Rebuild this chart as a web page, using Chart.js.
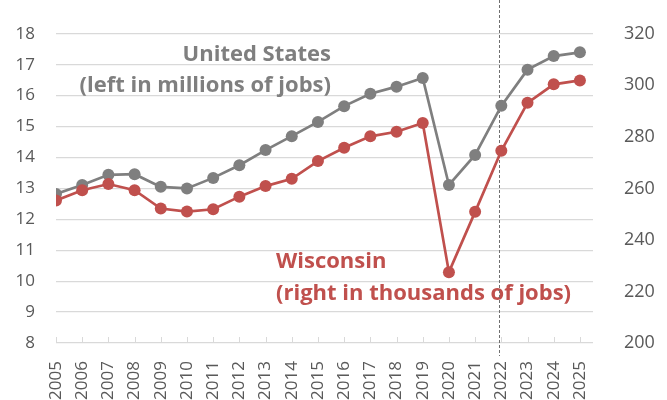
<!DOCTYPE html>
<html><head><meta charset="utf-8">
<script src="https://cdn.jsdelivr.net/npm/chart.js@4"></script>
<style>html,body{margin:0;padding:0;background:#fff}#wrap{width:667px;height:400px;position:relative}</style>
</head><body><div id="wrap"><canvas id="c"></canvas></div>
<script>
const years = [2005,2006,2007,2008,2009,2010,2011,2012,2013,2014,2015,2016,2017,2018,2019,2020,2021,2022,2023,2024,2025];
const usJobs = [12.82,13.11,13.44,13.46,13.05,13.00,13.34,13.75,14.24,14.69,15.15,15.66,16.06,16.29,16.57,13.11,14.08,15.67,16.84,17.28,17.40];
const wiJobs = [255.3,259.3,261.7,259.3,252.2,251.0,251.9,256.8,260.9,263.7,270.6,275.8,280.2,282.0,285.4,227.5,250.9,274.6,293.2,300.4,301.9];
const leftTicks = [8,9,10,11,12,13,14,15,16,17,18];
const rightTicks = [200,220,240,260,280,300,320];
const markerYear = 2021.9;
const usLabel = ['United States','(left in millions of jobs)'];
const wiLabel = ['Wisconsin','(right in thousands of jobs)'];

const GRAY = '#7F7F7F', RED = '#C0504D', TXT = '#595959', GRID = '#D9D9D9';
const FONT = "'Open Sans', sans-serif";

const extras = {
  id: 'extras',
  beforeDatasetsDraw(chart) {
    const ctx = chart.ctx, ca = chart.chartArea, x = chart.scales.x;
    ctx.save();
    ctx.strokeStyle = GRID; ctx.lineWidth = 1;
    years.forEach(yr => {
      const px = Math.round(x.getPixelForValue(yr)) + 0.5;
      ctx.beginPath(); ctx.moveTo(px, ca.bottom - 6); ctx.lineTo(px, ca.bottom); ctx.stroke();
    });
    ctx.font = "bold 22px " + FONT;
    ctx.textBaseline = 'middle';
    ctx.fillStyle = GRAY; ctx.textAlign = 'right';
    ctx.fillText(usLabel[0], 331, 55);
    ctx.fillText(usLabel[1], 331, 86);
    ctx.fillStyle = RED; ctx.textAlign = 'left';
    ctx.fillText(wiLabel[0], 276, 262);
    ctx.fillText(wiLabel[1], 276, 294);
    const mx = Math.round(x.getPixelForValue(markerYear)) + 0.5;
    ctx.strokeStyle = '#6f6f6f'; ctx.lineWidth = 1; ctx.setLineDash([3,2]);
    ctx.beginPath(); ctx.moveTo(mx, 0); ctx.lineTo(mx, ca.bottom + 13); ctx.stroke();
    ctx.restore();
  }
};

new Chart(document.getElementById('c'), {
  type: 'line',
  data: {
    datasets: [
      { label: 'Wisconsin', data: years.map((y,i)=>({x:y,y:wiJobs[i]})), yAxisID: 'y2',
        borderColor: RED, backgroundColor: RED, borderWidth: 2.7, pointRadius: 6, pointHoverRadius: 6,
        pointBorderWidth: 0, tension: 0 },
      { label: 'United States', data: years.map((y,i)=>({x:y,y:usJobs[i]})), yAxisID: 'y',
        borderColor: GRAY, backgroundColor: GRAY, borderWidth: 2.7, pointRadius: 6, pointHoverRadius: 6,
        pointBorderWidth: 0, tension: 0 }
    ]
  },
  options: {
    responsive: true, maintainAspectRatio: false, animation: false,
    layout: { padding: { top: 22, left: 0, right: 0, bottom: 0 } },
    plugins: { legend: { display: false }, tooltip: { enabled: false } },
    scales: {
      x: {
        type: 'linear', min: 2005, max: 2025.5,
        afterBuildTicks: s => { s.ticks = years.map(v => ({ value: v })); },
        afterFit: s => { s.height = 57; },
        grid: { display: false }, border: { display: false },
        ticks: { autoSkip: false, minRotation: 90, maxRotation: 90, padding: 10,
          color: TXT, font: { family: FONT, size: 17 }, callback: v => String(v) }
      },
      y: {
        position: 'left', min: 8, max: 18,
        afterBuildTicks: s => { s.ticks = leftTicks.map(v => ({ value: v })); },
        afterFit: s => { s.width = 56; },
        grid: { color: GRID, lineWidth: 1.2, drawTicks: false }, border: { display: false },
        ticks: { padding: 21, color: TXT, font: { family: FONT, size: 17 } }
      },
      y2: {
        position: 'right', min: 200, max: 320,
        afterBuildTicks: s => { s.ticks = rightTicks.map(v => ({ value: v })); },
        afterFit: s => { s.width = 74; },
        grid: { display: false }, border: { display: false },
        ticks: { padding: 23, color: TXT, font: { family: FONT, size: 18 } }
      }
    }
  },
  plugins: [extras]
});
</script></body></html>
